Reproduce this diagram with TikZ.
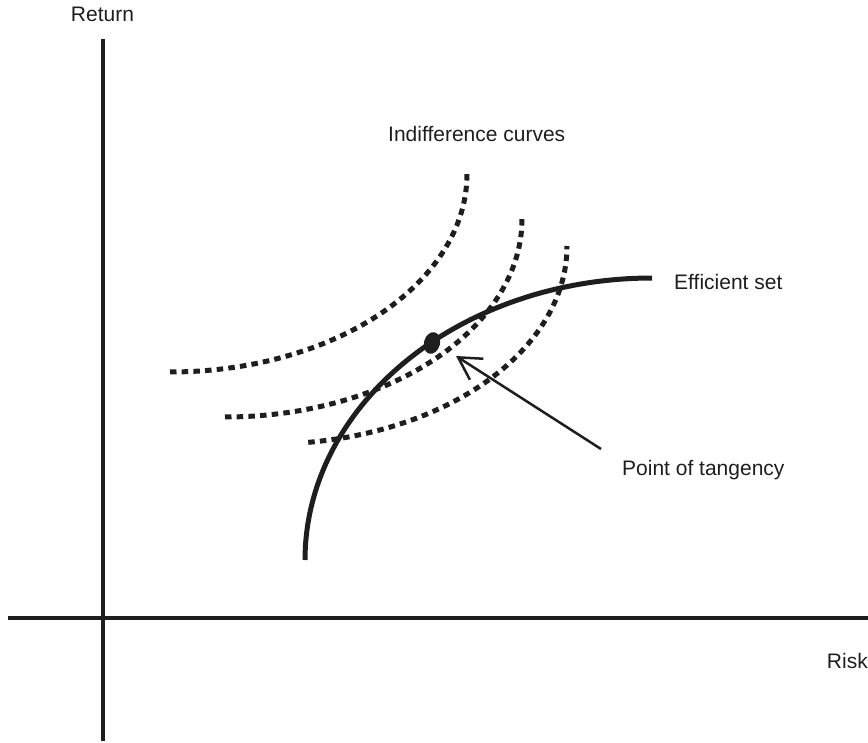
\documentclass[tikz,border=0pt]{standalone}
\usepackage{fontspec}
\setmainfont{Liberation Sans}
\usetikzlibrary{arrows.meta,shapes.geometric}
\definecolor{ink}{HTML}{1E1E1E}
\begin{document}
\begin{tikzpicture}[x=1pt,y=-1pt,
  axisline/.style={draw=ink,line width=4pt},
  effline/.style={draw=ink,line width=5pt},
  indiff/.style={draw=ink,line width=5pt,dash pattern=on 6.5pt off 5.2pt},
  lbl/.style={font=\fontsize{21}{25}\selectfont,text=ink,inner sep=0pt,anchor=base},
  pointer/.style={draw=ink,line width=2.5pt,-{Straight Barb[length=22pt,width=25pt,line width=2.5pt]}}]
\useasboundingbox (0,0) rectangle (868,743);
% axes
\coordinate (ytop) at (102.5,39);
\coordinate (ybot) at (102.5,741);
\coordinate (xl) at (8,618);
\coordinate (xr) at (868,618);
\draw[axisline] (ytop) -- (ybot);
\draw[axisline] (xl) -- (xr);
% labels
\node[lbl] (ret) at (102.5,22) {Return};
\node[lbl,anchor=base east] (risk) at (868,668) {Risk};
\node[lbl,anchor=base west] (ic) at (388,142) {Indifference curves};
\node[lbl,anchor=base west] (es) at (674,290) {Efficient set};
\node[lbl,anchor=base west] (pt) at (622,475) {Point of tangency};
% indifference curves
\draw[indiff] plot[domain=90:0,samples=80,smooth] ({170+297*cos(\x)},{174+198*sin(\x)});
\draw[indiff] plot[domain=90:0,samples=80,smooth] ({225+297*cos(\x)},{219+198*sin(\x)});
\draw[indiff] plot[domain=82.6:0,samples=80,smooth] ({270+297*cos(\x)},{246+198*sin(\x)});
% efficient set
\draw[effline] plot[domain=180:90,samples=100,smooth] ({652+347*cos(\x)},{560-282*sin(\x)});
% tangency point
\node[draw=none,fill=ink,ellipse,minimum width=16pt,minimum height=22pt,inner sep=0pt,rotate=-15] (tp) at (432,343) {};
\coordinate (tip) at (456,356);
\coordinate (tail) at (601,449);
\draw[pointer] (tail) -- (tip);
\end{tikzpicture}
\end{document}
